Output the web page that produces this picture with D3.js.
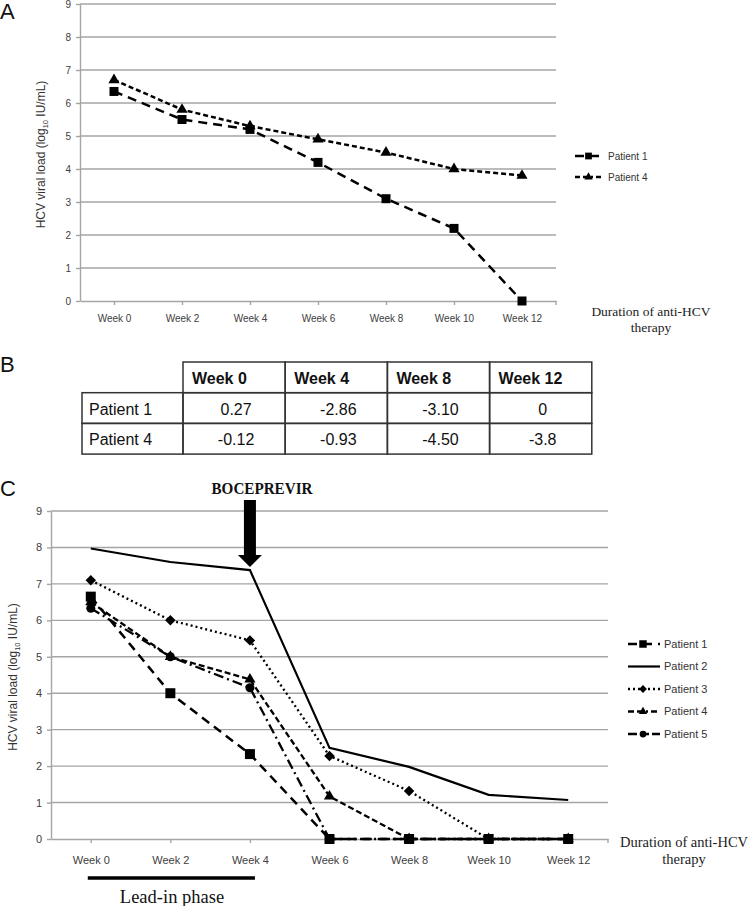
<!DOCTYPE html>
<html>
<head>
<meta charset="utf-8">
<script src="https://cdn.jsdelivr.net/npm/d3@7"></script>
<style>
body { margin: 0; background: #fff; }
svg { display: block; font-family: "Liberation Sans", Arial, sans-serif; }
.serif { font-family: "Liberation Serif", "Times New Roman", serif; }
</style>
</head>
<body>
<div id="fig"></div>
<script>
// shared categories / ticks
var weeks = ["Week 0", "Week 2", "Week 4", "Week 6", "Week 8", "Week 10", "Week 12"];
var yTicks = [0, 1, 2, 3, 4, 5, 6, 7, 8, 9];

// panel A values (log10 IU/mL)
var seriesA = ["Patient 1", "Patient 4"];
var aPatient1 = [6.35, 5.5, 5.2, 4.2, 3.1, 2.2, 0];
var aPatient4 = [6.7, 5.8, 5.3, 4.9, 4.5, 4.0, 3.8];

// panel B table
var tableWeeks = ["Week 0", "Week 4", "Week 8", "Week 12"];
var tablePatients = ["Patient 1", "Patient 4"];
var tablePatient1 = ["0.27", "-2.86", "-3.10", "0"];
var tablePatient4 = ["-0.12", "-0.93", "-4.50", "-3.8"];

// panel C values
var seriesC = ["Patient 1", "Patient 2", "Patient 3", "Patient 4", "Patient 5"];
var cPatient1 = [6.65, 4.0, 2.33, 0, 0, 0, 0];
var cPatient2 = [7.97, 7.6, 7.38, 2.5, 1.98, 1.21, 1.07];
var cPatient3 = [7.1, 6.0, 5.45, 2.28, 1.32, 0, 0];
var cPatient4 = [6.5, 5.0, 4.38, 1.17, 0, 0, 0];
var cPatient5 = [6.33, 5.0, 4.15, 0, 0, 0, 0];

var W = 750, H = 906;
var svg = d3.select("#fig").append("svg")
    .attr("width", W)
    .attr("height", H);

var gridColor = "#a5a5a5";

// marker shapes
function marker(sel, type, s) {
  if (type == "square") {
    sel.attr("d", d3.symbol().type(d3.symbolSquare).size(s * s)());
  } else if (type == "diamond") {
    sel.attr("d", d3.symbol().type(d3.symbolSquare).size(s * s * 0.55)())
       .attr("transform", function() { return d3.select(this).attr("transform") + " rotate(45)"; });
  } else if (type == "triangle") {
    sel.attr("d", d3.symbol().type(d3.symbolTriangle).size(s * s * 0.45)());
  } else if (type == "circle") {
    sel.attr("d", d3.symbol().type(d3.symbolCircle).size(Math.PI * s * s / 4)());
  }
}

function yTitle(g, x, y, fs) {
  var t = g.append("text")
      .attr("transform", "translate(" + x + "," + y + ") rotate(-90)")
      .attr("text-anchor", "middle")
      .attr("font-size", fs)
      .attr("fill", "#333");
  t.append("tspan").text("HCV viral load (log");
  t.append("tspan").attr("font-size", fs * 0.62).attr("dy", 3).text("10");
  t.append("tspan").attr("dy", -3).text(" IU/mL)");
}

function drawPanel(cfg) {
  var g = svg.append("g");
  var x = d3.scalePoint().domain(weeks).range([cfg.left, cfg.right]).padding(0.5);
  var y = d3.scaleLinear().domain([0, 9]).range([cfg.bottom, cfg.top]);

  // gridlines
  g.append("g").selectAll("line")
    .data(yTicks.slice(1))
    .enter().append("line")
      .attr("x1", cfg.left).attr("x2", cfg.right)
      .attr("y1", function(d) { return y(d); })
      .attr("y2", function(d) { return y(d); })
      .attr("stroke", gridColor)
      .attr("stroke-width", 1.4);

  // y axis
  var ya = g.append("g")
      .attr("transform", "translate(" + cfg.left + ",0)")
      .call(d3.axisLeft(y).tickValues(yTicks).tickSize(4).tickSizeOuter(0).tickPadding(5));
  // x axis
  var xa = g.append("g")
      .attr("transform", "translate(0," + cfg.bottom + ")")
      .call(d3.axisBottom(x).tickSize(4).tickSizeOuter(0).tickPadding(cfg.xPad));
  xa.append("line")
      .attr("x1", cfg.right).attr("x2", cfg.right)
      .attr("y1", 0).attr("y2", 4);
  [ya, xa].forEach(function(a) {
    a.attr("font-family", null);
    a.selectAll("path, line").attr("stroke", gridColor).attr("stroke-width", 1.4);
    a.selectAll("text").attr("font-size", cfg.fs).attr("fill", "#404040");
  });

  yTitle(g, cfg.titleX, (cfg.top + cfg.bottom) / 2 + 2, 12);

  // series lines + markers, drawn last series first so squares sit on top
  var line = d3.line()
      .x(function(d, i) { return x(weeks[i]); })
      .y(function(d) { return y(d); });
  cfg.series.slice().reverse().forEach(function(s) {
    g.append("path")
      .datum(s.values)
      .attr("d", line)
      .attr("fill", "none")
      .attr("stroke", "#000")
      .attr("stroke-width", s.width)
      .attr("stroke-dasharray", s.dash);
    if (s.mark) {
      g.append("g").selectAll("path")
        .data(s.values)
        .enter().append("path")
          .attr("transform", function(d, i) { return "translate(" + x(weeks[i]) + "," + y(d) + ")"; })
          .attr("fill", "#000")
          .call(marker, s.mark, s.size);
    }
  });

  // legend
  cfg.series.forEach(function(s, i) {
    var ly = cfg.legY + i * cfg.legStep;
    var lg = g.append("g");
    lg.append("line")
      .attr("x1", cfg.legX).attr("x2", cfg.legX + cfg.legLen)
      .attr("y1", ly).attr("y2", ly)
      .attr("stroke", "#000")
      .attr("stroke-width", s.width)
      .attr("stroke-dasharray", s.legDash || s.dash);
    if (s.mark) {
      lg.append("path")
        .attr("transform", "translate(" + (cfg.legX + cfg.legLen / 2 - 1) + "," + ly + ")")
        .attr("fill", "#000")
        .call(marker, s.mark, s.size * 0.75);
    }
    lg.append("text")
      .attr("x", cfg.legX + cfg.legLen + 4)
      .attr("y", ly)
      .attr("dy", "0.35em")
      .attr("font-size", cfg.legFs)
      .attr("fill", "#333")
      .text(s.name);
  });

  // x axis title
  var xt = g.append("text")
      .attr("class", "serif")
      .attr("text-anchor", "middle")
      .attr("font-size", cfg.xtFs)
      .attr("fill", "#222");
  xt.append("tspan").attr("x", cfg.xtX).attr("y", cfg.xtY).text("Duration of anti-HCV");
  xt.append("tspan").attr("x", cfg.xtX).attr("dy", cfg.xtFs * 1.2).text("therapy");

  return {x: x, y: y, g: g};
}

// panel letters
function letter(t, yb) {
  svg.append("text").attr("x", 0).attr("y", yb)
    .attr("font-size", 22).attr("fill", "#111").text(t);
}
letter("A", 19);
letter("B", 372);
letter("C", 496);

// ---- panel A
drawPanel({
  left: 80, right: 556, top: 4, bottom: 301,
  fs: 10, xPad: 10, titleX: 45,
  series: [
    {name: seriesA[0], values: aPatient1, dash: "9,6", width: 2.5, mark: "square", size: 9},
    {name: seriesA[1], values: aPatient4, dash: "5,3", width: 2.5, mark: "triangle", size: 11, legDash: "5,3,5,3,2,3"}
  ],
  legX: 575, legY: 156, legStep: 21, legLen: 29, legFs: 10,
  xtX: 651, xtY: 316, xtFs: 13.5
});

// ---- panel B table
var tb = svg.append("g");
var tLeft = 82, firstW = 101, colW = 102.2, tTop = 362, rowH = 30.7;
var colX = function(i) { return tLeft + firstW + i * colW; };
tb.selectAll("rect.h")
  .data(tableWeeks)
  .enter().append("rect")
    .attr("x", function(d, i) { return colX(i); })
    .attr("y", tTop)
    .attr("width", colW).attr("height", rowH)
    .attr("fill", "none").attr("stroke", "#333").attr("stroke-width", 1.5);
tb.selectAll("text.h")
  .data(tableWeeks)
  .enter().append("text")
    .attr("x", function(d, i) { return colX(i) + 9; })
    .attr("y", tTop + rowH / 2 + 1)
    .attr("dy", "0.35em")
    .attr("font-size", 16)
    .attr("font-weight", "bold")
    .attr("fill", "#111")
    .text(function(d) { return d; });
var tableRows = [tablePatient1, tablePatient4];
tableRows.forEach(function(vals, r) {
  var ry = tTop + rowH * (r + 1);
  tb.append("rect")
    .attr("x", tLeft).attr("y", ry)
    .attr("width", firstW).attr("height", rowH)
    .attr("fill", "none").attr("stroke", "#333").attr("stroke-width", 1.5);
  tb.append("text")
    .attr("x", tLeft + 7).attr("y", ry + rowH / 2 + 1)
    .attr("dy", "0.35em").attr("font-size", 16).attr("fill", "#111")
    .text(tablePatients[r]);
  vals.forEach(function(v, i) {
    tb.append("rect")
      .attr("x", colX(i)).attr("y", ry)
      .attr("width", colW).attr("height", rowH)
      .attr("fill", "none").attr("stroke", "#333").attr("stroke-width", 1.5);
    tb.append("text")
      .attr("x", colX(i) + colW / 2 + 2).attr("y", ry + rowH / 2 + 1)
      .attr("dy", "0.35em").attr("text-anchor", "middle")
      .attr("font-size", 16).attr("fill", "#111")
      .text(v);
  });
});

// ---- panel C
var pc = drawPanel({
  left: 51, right: 608, top: 511, bottom: 839,
  fs: 11, xPad: 13, titleX: 17,
  series: [
    {name: seriesC[0], values: cPatient1, dash: "9,6", width: 2.5, mark: "square", size: 10},
    {name: seriesC[1], values: cPatient2, dash: null, width: 2.2, mark: null},
    {name: seriesC[2], values: cPatient3, dash: "2,3", width: 2.3, mark: "diamond", size: 10},
    {name: seriesC[3], values: cPatient4, dash: "6,3", width: 2.3, mark: "triangle", size: 11, legDash: "6,3,6,3,2,3"},
    {name: seriesC[4], values: cPatient5, dash: "10,4,2,4", width: 2.3, mark: "circle", size: 9, legDash: "9,9,3,3"}
  ],
  legX: 628, legY: 644, legStep: 22.5, legLen: 32, legFs: 11,
  xtX: 684, xtY: 847, xtFs: 14.5
});

// BOCEPREVIR arrow pointing at week 4 of patient 2
var ax = pc.x("Week 4"), tipY = pc.y(cPatient2[2]) - 3;
svg.append("path")
  .attr("d", "M" + (ax - 6) + ",500 L" + (ax + 6) + ",500 L" + (ax + 6) + "," + (tipY - 12) +
    " L" + (ax + 12) + "," + (tipY - 12) + " L" + ax + "," + tipY + " L" + (ax - 12) + "," + (tipY - 12) +
    " L" + (ax - 6) + "," + (tipY - 12) + "Z")
  .attr("fill", "#000");
svg.append("text")
  .attr("class", "serif")
  .attr("x", 262).attr("y", 494)
  .attr("text-anchor", "middle")
  .attr("font-weight", "bold")
  .attr("font-size", 17)
  .attr("textLength", 101)
  .attr("lengthAdjust", "spacingAndGlyphs")
  .attr("fill", "#111")
  .text("BOCEPREVIR");

// lead-in phase bar
svg.append("line")
  .attr("x1", pc.x("Week 0") - 3).attr("x2", pc.x("Week 4") + 5)
  .attr("y1", 878).attr("y2", 878)
  .attr("stroke", "#000").attr("stroke-width", 3.5);
svg.append("text")
  .attr("class", "serif")
  .attr("x", 172).attr("y", 903)
  .attr("text-anchor", "middle")
  .attr("font-size", 18.5)
  .attr("fill", "#111")
  .text("Lead-in phase");
</script>
</body>
</html>
